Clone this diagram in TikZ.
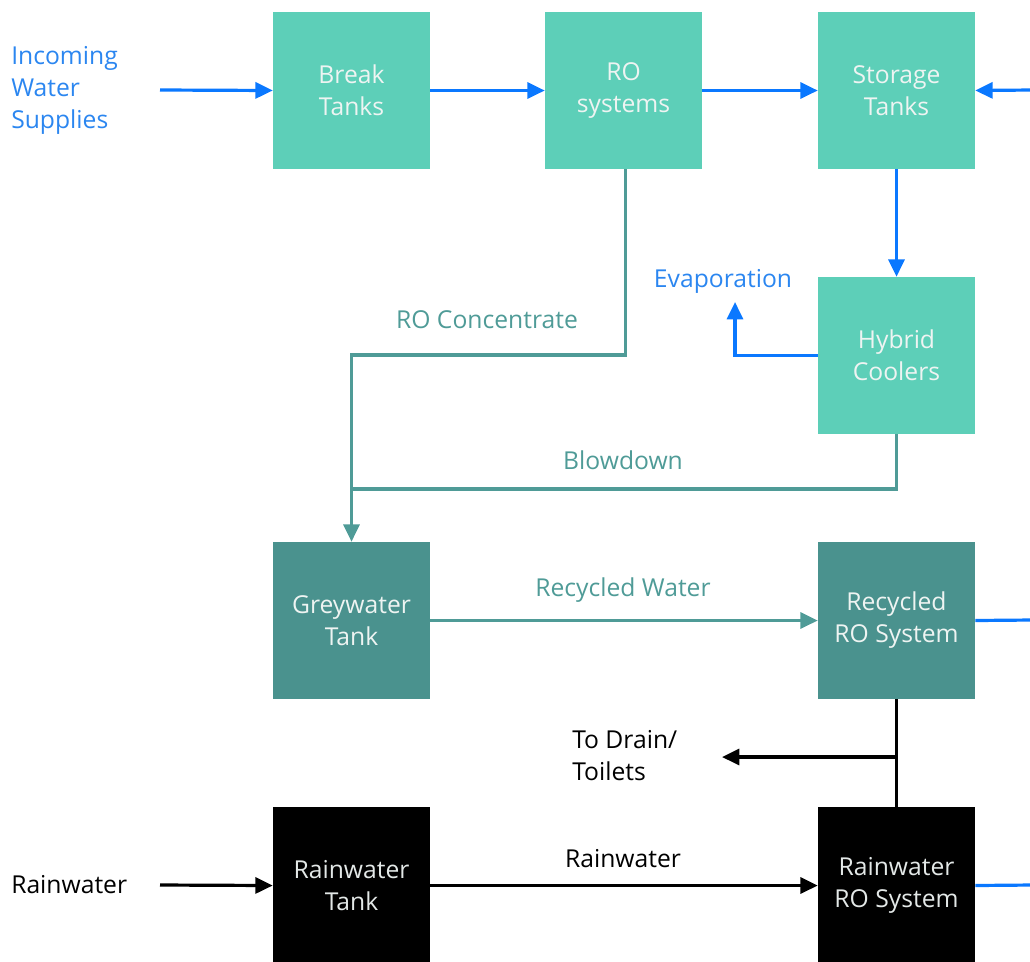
\documentclass[tikz,border=0pt]{standalone}
\usepackage{fontspec}
\setmainfont{Open Sans}
\usetikzlibrary{arrows.meta}
\definecolor{tealA}{HTML}{5DCFB8}
\definecolor{tealB}{HTML}{4A928E}
\definecolor{tealLine}{HTML}{4F9B97}
\definecolor{blueL}{HTML}{0A78FF}
\definecolor{blueT}{HTML}{2B86F0}
\definecolor{boxText}{HTML}{EEF4F2}
\begin{document}
\begin{tikzpicture}[x=0.75pt,y=-0.75pt,
  box/.style={minimum width=117.75pt,minimum height=117.75pt,inner sep=0pt,align=center,
     font=\fontsize{18.5}{24}\selectfont,text=boxText},
  boxA/.style={box,fill=tealA},
  boxB/.style={box,fill=tealB},
  boxC/.style={box,fill=black,text=boxText!90!gray},
  lbl/.style={font=\fontsize{18.5}{24}\selectfont,inner sep=0pt,align=left},
  tip/.style={-{Triangle[length=13pt,width=12pt]}},
  bl/.style={draw=blueL,line width=2.4pt},
  tl/.style={draw=tealLine,line width=2.4pt},
  kl/.style={draw=black,line width=2.4pt}]
\useasboundingbox (0,0) rectangle (1030,961);
% boxes
\node[boxA] (break) at (351.5,90.5) {Break\\Tanks};
\node[boxA] (ro) at (623.5,90.5) {RO\\systems};
\node[boxA] (storage) at (896.5,90.5) {Storage\\Tanks};
\node[boxA] (hybrid) at (896.5,355.5) {Hybrid\\Coolers};
\node[boxB] (grey) at (351.5,620.5) {Greywater\\Tank};
\node[boxB] (recro) at (896.5,620.5) {Recycled\\RO System};
\node[boxC] (raintank) at (351.5,885.5) {Rainwater\\Tank};
\node[boxC] (rainro) at (896.5,885.5) {Rainwater\\RO System};
% labels
\node[lbl,text=blueT,anchor=west] (incoming) at (11,90) {Incoming\\Water\\Supplies};
\node[lbl,text=blueT] (evap) at (723,281) {Evaporation};
\node[lbl,text=tealLine] (roconc) at (487,320) {RO Concentrate};
\node[lbl,text=tealLine] (blow) at (623,460) {Blowdown};
\node[lbl,text=tealLine] (recw) at (623,590) {Recycled Water};
\node[lbl,anchor=west] (drain) at (572,756) {To Drain/\\Toilets};
\node[lbl,anchor=west] (rainlbl) at (11,885) {Rainwater};
\node[lbl] (rainw) at (623,859) {Rainwater};
% coordinates
\coordinate (inS) at (160,90);
\coordinate (rS) at (160,885);
\coordinate (rightT) at (1032,90);
\coordinate (rightR) at (1032,620);
\coordinate (rightW) at (1032,885);
\coordinate (evapTip) at (735,302);
\coordinate (drainTip) at (722,757);
% blue
\draw[bl,tip] (inS) -- (break.west);
\draw[bl,tip] (break.east) -- (ro.west);
\draw[bl,tip] (ro.east) -- (storage.west);
\draw[bl,tip] (rightT) -- (storage.east);
\draw[bl,tip] (storage.south) -- (hybrid.north);
\draw[bl,tip] (hybrid.west) -| (evapTip);
\draw[bl] (recro.east) -- (rightR);
\draw[bl] (rainro.east) -- (rightW);
% teal
\draw[tl,tip] ([xshift=1.5pt]ro.south) |- (351.5,355) -- (grey.north);
\draw[tl] (hybrid.south) |- (351.5,489);
\draw[tl,tip] (grey.east) -- (recro.west);
% black
\draw[kl] (recro.south) -- (rainro.north);
\draw[kl,tip] (896.5,757) -- (drainTip);
\draw[kl,tip] (rS) -- (raintank.west);
\draw[kl,tip] (raintank.east) -- (rainro.west);
\end{tikzpicture}
\end{document}
